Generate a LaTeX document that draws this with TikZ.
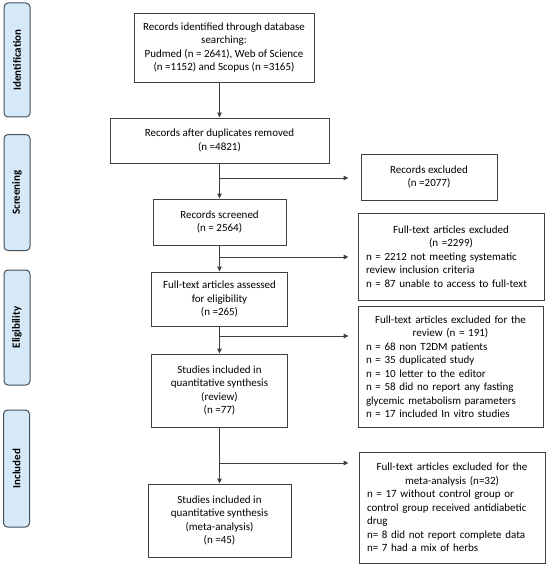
\documentclass[tikz,border=0pt]{standalone}
\usepackage{fontspec}
\setmainfont{Carlito}
\usetikzlibrary{arrows.meta,calc}
\definecolor{linegray}{HTML}{404040}
\definecolor{sidefill}{HTML}{D6E9F8}
\definecolor{sideborder}{HTML}{44505C}
\begin{document}
\begin{tikzpicture}[x=1pt,y=-1pt,
  box/.style={draw=linegray, line width=0.9pt, align=center, inner sep=0pt,
    font=\fontsize{11}{13.5}\selectfont},
  exbox/.style={draw=linegray, line width=0.9pt, align=left, inner xsep=8pt, inner ysep=0pt,
    font=\fontsize{11}{13.5}\selectfont},
  side/.style={draw=sideborder, fill=sidefill, rounded corners=4pt, line width=1pt,
    font=\bfseries\fontsize{11}{13}\selectfont, rotate=90, inner sep=0pt, minimum height=26pt},
  arr/.style={draw=linegray, line width=0.9pt, -{Triangle[length=5pt,width=4.5pt]}},
]
\useasboundingbox (0,0) rectangle (550,567);
% side labels
\node[side, minimum width=114pt] (s1) at (17,60) {Identification};
\node[side, minimum width=116pt] (s2) at (17,192.5) {Screening};
\node[side, minimum width=115pt] (s3) at (17,327.5) {Eligibility};
\node[side, minimum width=117pt] (s4) at (16.5,468.5) {Included};
% main column
\node[box, minimum width=180pt, minimum height=69pt] (b1) at (224,47.5)
  {Records identified through database\\searching:\\Pudmed (n = 2641), Web of Science\\(n =1152) and Scopus (n =3165)};
\node[box, minimum width=219pt, minimum height=45pt] (b2) at (219.5,140.5)
  {Records after duplicates removed\\(n =4821)};
\node[box, minimum width=133pt, minimum height=46pt] (b3) at (219.5,222)
  {Records screened\\(n = 2564)};
\node[box, minimum width=136pt, minimum height=54pt] (b4) at (219.5,299)
  {Full-text articles assessed\\for eligibility\\(n =265)};
\node[box, minimum width=136pt, minimum height=73pt] (b5) at (219.5,390.5)
  {Studies included in\\quantitative synthesis\\(review)\\(n =77)};
\node[box, minimum width=143pt, minimum height=73pt] (b6) at (219.5,520.5)
  {Studies included in\\quantitative synthesis\\(meta-analysis)\\(n =45)};
% exclusion column
\node[box, minimum width=136pt, minimum height=46pt] (e1) at (429,177)
  {Records excluded\\(n =2077)};
\node[exbox, text width=170pt, minimum height=87pt] (e2) at (451,256.5)
  {\centering Full-text articles excluded\\(n =2299)\par\raggedright
   n = 2212 not meeting systematic\\review inclusion criteria\\n = 87 unable to access to full-text};
\node[exbox, text width=169pt, minimum height=121pt] (e3) at (450.5,366.5)
  {\centering Full-text articles excluded for the\\review (n = 191)\par\raggedright
   n = 68 non T2DM patients\\n = 35 duplicated study\\n = 10 letter to the editor\\n = 58 did no report any fasting\\glycemic metabolism parameters\\n = 17 included In vitro studies};
\node[exbox, text width=170pt, minimum height=111pt] (e4) at (452,507.5)
  {\centering Full-text articles excluded for the\\meta-analysis (n=32)\par\raggedright
   n = 17 without control group or\\control group received antidiabetic\\drug\\n= 8 did not report complete data\\n= 7 had a mix of herbs};
% junctions
\coordinate (j1) at (219.5,178);
\coordinate (j2) at (219.5,257);
\coordinate (j3) at (219.5,336);
\coordinate (j4) at (219.5,463);
% connectors
\draw[arr] (b1.south -| b2.north) -- (b2.north);
\draw[arr] (b2) -- (b3);
\draw[arr] (b3) -- (b4);
\draw[arr] (b4) -- (b5);
\draw[arr] (b5) -- (b6);
\draw[arr, shorten >=12pt] (j1) -- (j1 -| e1.west);
\draw[arr, shorten >=9pt] (j2) -- (j2 -| e2.west);
\draw[arr, shorten >=9pt] (j3) -- (j3 -| e3.west);
\draw[arr, shorten >=10pt] (j4) -- (j4 -| e4.west);
\end{tikzpicture}
\end{document}
